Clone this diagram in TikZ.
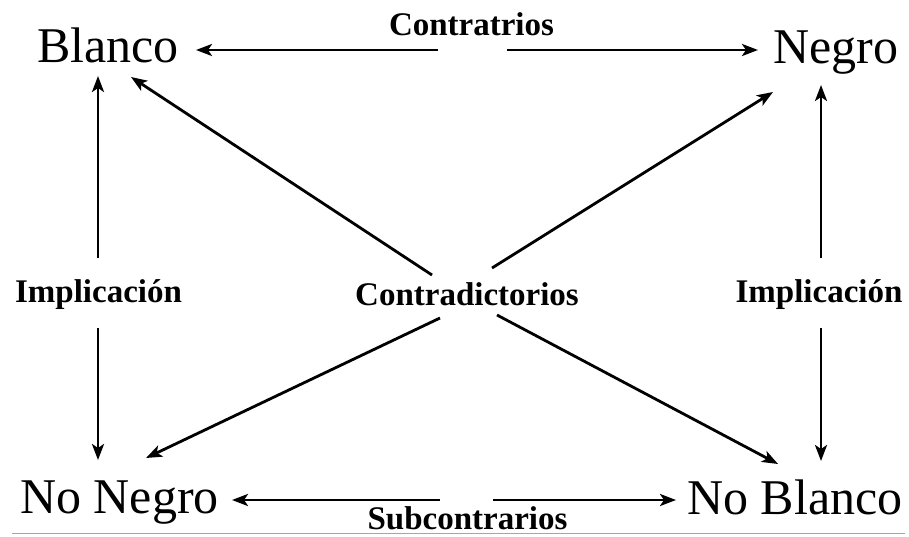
\documentclass[tikz,border=0pt]{standalone}
\usepackage{fontspec}
\setmainfont{Liberation Serif}
\usetikzlibrary{arrows.meta}
\begin{document}
\begin{tikzpicture}[x=1pt,y=-1pt,
  term/.style={inner sep=0pt,anchor=base west,font=\fontsize{50}{60}\selectfont},
  rel/.style={inner sep=0pt,anchor=base,font=\fontsize{33}{40}\selectfont\bfseries},
  arr/.style={line width=2.8pt,-{Stealth[length=16pt,width=12pt,inset=4pt]}}]
\useasboundingbox (0,0) rectangle (909,536);
% terms
\node[term] (blanco) at (37,62) {Blanco};
\node[term] (negro) at (773,63) {Negro};
\node[term] (nonegro) at (20,513) {No Negro};
\node[term] (noblanco) at (687,514) {No Blanco};
% relation labels
\node[rel] (contr) at (471.5,35) {Contratrios};
\node[rel] (contrad) at (467,305) {Contradictorios};
\node[rel] (implL) at (98.5,302) {Implicación};
\node[rel] (implR) at (819,302) {Implicación};
\node[rel] (subc) at (467.5,529.5) {Subcontrarios};
% connector end points
\coordinate (tA) at (438,50);  \coordinate (tB) at (507,50);
\coordinate (tBl) at (196,50); \coordinate (tNe) at (758,50);
\coordinate (bA) at (440,500); \coordinate (bB) at (493,500);
\coordinate (bNN) at (232,500); \coordinate (bNB) at (676,500);
\coordinate (lA) at (98,258);  \coordinate (lB) at (98,328);
\coordinate (lBl) at (98,76);  \coordinate (lNN) at (98,460);
\coordinate (rA) at (821,258); \coordinate (rB) at (821,328);
\coordinate (rNe) at (821,85); \coordinate (rNB) at (821,461);
\coordinate (dUL) at (432,275); \coordinate (dUR) at (492,268);
\coordinate (dLL) at (440,318); \coordinate (dLR) at (497,315);
\coordinate (dBl) at (131,77);  \coordinate (dNe) at (773,92);
\coordinate (dNN) at (146,458); \coordinate (dNB) at (778,464);
% connectors
\draw[arr] (tA) -- (tBl);
\draw[arr] (tB) -- (tNe);
\draw[arr] (bA) -- (bNN);
\draw[arr] (bB) -- (bNB);
\draw[arr] (lA) -- (lBl);
\draw[arr] (lB) -- (lNN);
\draw[arr] (rA) -- (rNe);
\draw[arr] (rB) -- (rNB);
\draw[arr] (dUL) -- (dBl);
\draw[arr] (dUR) -- (dNe);
\draw[arr] (dLL) -- (dNN);
\draw[arr] (dLR) -- (dNB);
% bottom rule
\coordinate (gL) at (12,533); \coordinate (gR) at (905,533);
\draw[gray!70,line width=1pt] (gL) -- (gR);
\end{tikzpicture}
\end{document}
